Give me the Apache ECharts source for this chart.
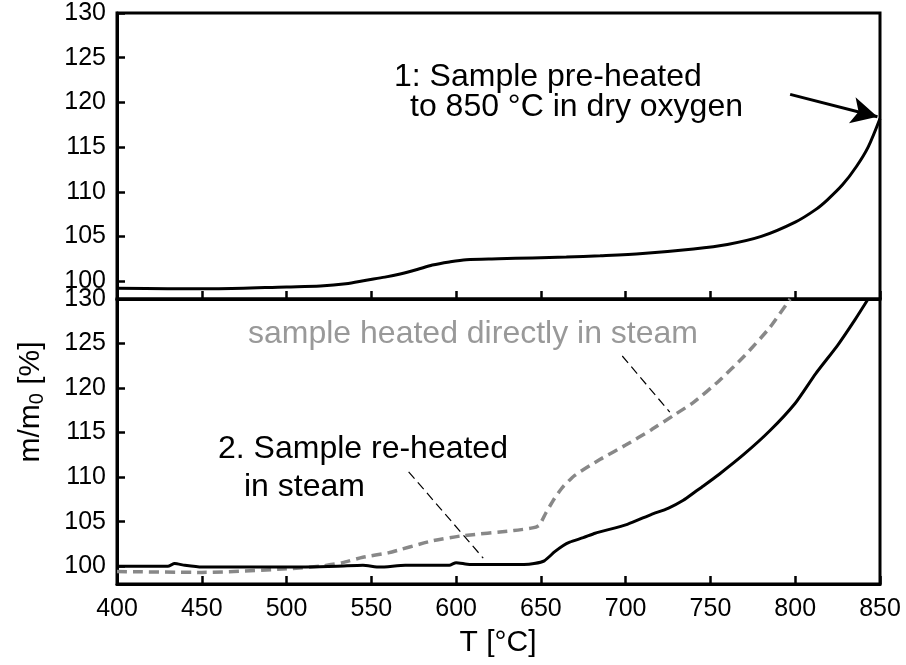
<!DOCTYPE html>
<html>
<head>
<meta charset="utf-8">
<script src="https://cdn.jsdelivr.net/npm/echarts@6/dist/echarts.min.js"></script>
<style>html,body{margin:0;padding:0;background:#fff}#c{width:906px;height:665px}</style>
</head>
<body>
<div id="c"></div>
<script>
// x ticks
const xTicks = [400, 450, 500, 550, 600, 650, 700, 750, 800, 850];
// Top panel: pre-heated in dry oxygen
const topT = [400, 430, 460, 500, 520, 535, 547, 558, 567, 577, 586, 596, 606, 625, 645, 665, 685, 710, 740, 760, 780, 800, 812, 819, 828, 836, 843, 850];
const topV = [99.2, 99.15, 99.15, 99.35, 99.45, 99.7, 100.1, 100.45, 100.8, 101.3, 101.8, 102.15, 102.4, 102.5, 102.6, 102.7, 102.85, 103.1, 103.6, 104.1, 105.0, 106.6, 108.0, 109.1, 110.8, 112.8, 115.0, 118.2];
// Bottom panel: re-heated in steam (black)
const reT = [400, 430, 434, 440, 450, 480, 500, 530, 545, 555, 570, 585, 596, 600, 608, 620, 640, 646, 652, 658, 663, 667, 675, 682, 701, 715, 725, 734, 742, 745, 755, 770, 785, 800, 812, 825, 835, 843];
const reV = [100.0, 100.0, 100.3, 100.1, 99.9, 99.9, 99.9, 100.0, 100.1, 99.9, 100.1, 100.1, 100.1, 100.4, 100.2, 100.2, 100.2, 100.3, 100.6, 101.6, 102.3, 102.7, 103.2, 103.7, 104.7, 105.8, 106.5, 107.4, 108.5, 108.9, 110.3, 112.6, 115.2, 118.3, 121.6, 124.8, 127.6, 130.0];
// Bottom panel: heated directly in steam (gray dashed)
const dirT = [400, 450, 500, 520, 533, 545, 560, 585, 603, 634, 645, 649, 653, 658, 663, 670, 685, 700, 715, 728, 740, 755, 770, 785, 797];
const dirV = [99.4, 99.3, 99.7, 100.0, 100.4, 101.0, 101.5, 102.8, 103.4, 104.0, 104.3, 104.6, 106.0, 107.6, 108.9, 110.2, 112.0, 113.6, 115.3, 116.9, 118.4, 120.8, 123.6, 126.8, 130.0];
const yMin = 98, yMax = 130;

const pairs = (a, b) => a.map((t, i) => [t, b[i]]);
const FONT = 'Liberation Sans, Arial, sans-serif';

const axisX = (gi, showLabel) => ({
  type: 'value', gridIndex: gi, min: 400, max: 850, interval: 50,
  axisLine: { show: true, onZero: false, lineStyle: { color: '#000', width: 3 } },
  axisTick: { show: true, inside: true, length: 8, lineStyle: { color: '#000', width: 2.5 } },
  axisLabel: { show: showLabel, color: '#000', fontSize: 25, fontFamily: FONT, margin: 13 },
  splitLine: { show: false }
});
const axisY = (gi) => ({
  type: 'value', gridIndex: gi, min: yMin, max: yMax, splitNumber: 6,
  axisLine: { show: true, onZero: false, lineStyle: { color: '#000', width: 3 } },
  axisTick: { show: true, inside: true, length: 8, lineStyle: { color: '#000', width: 2.5 } },
  axisLabel: { color: '#000', fontSize: 25, fontFamily: FONT, margin: 11, showMinLabel: false },
  splitLine: { show: false }
});

const chart = echarts.init(document.getElementById('c'), null, { renderer: 'canvas' });
chart.setOption({
  animation: false,
  backgroundColor: '#fff',
  grid: [
    { left: 117, right: 26, top: 13, height: 286, show: true, borderColor: '#000', borderWidth: 3, backgroundColor: 'transparent' },
    { left: 117, right: 26, top: 299, height: 285, show: true, borderColor: '#000', borderWidth: 3, backgroundColor: 'transparent' }
  ],
  xAxis: [axisX(0, false), axisX(1, true)],
  yAxis: [axisY(0), axisY(1)],
  series: [
    {
      type: 'line', xAxisIndex: 0, yAxisIndex: 0, data: pairs(topT, topV), smooth: 0.3,
      showSymbol: false, lineStyle: { color: '#000', width: 3 },
      markLine: {
        silent: true, symbol: ['none', 'arrow'], symbolSize: [20, 26],
        lineStyle: { color: '#000', width: 3, type: 'solid' }, label: { show: false },
        data: [[{ coord: [797, 120.9] }, { coord: [848.5, 118.4] }]]
      }
    },
    {
      type: 'line', xAxisIndex: 1, yAxisIndex: 1, data: pairs(dirT, dirV), smooth: 0.2,
      showSymbol: false, lineStyle: { color: '#888', width: 3.5, type: [10, 6] },
      markLine: {
        silent: true, symbol: ['none', 'none'],
        lineStyle: { color: '#000', width: 1.2, type: [9, 5] }, label: { show: false },
        data: [[{ coord: [698, 123.6] }, { coord: [726, 117.3] }]]
      }
    },
    {
      type: 'line', xAxisIndex: 1, yAxisIndex: 1, data: pairs(reT, reV), smooth: 0.2,
      showSymbol: false, lineStyle: { color: '#000', width: 3 },
      markLine: {
        silent: true, symbol: ['none', 'none'],
        lineStyle: { color: '#000', width: 1.2, type: [9, 5] }, label: { show: false },
        data: [[{ coord: [572, 110.6] }, { coord: [616, 100.9] }]]
      }
    }
  ],
  graphic: [
    { type: 'text', left: 394, top: 61, style: { text: '1: Sample pre-heated', font: '32px ' + FONT, fill: '#000' } },
    { type: 'text', left: 410, top: 91, style: { text: 'to 850 °C in dry oxygen', font: '32px ' + FONT, fill: '#000' } },
    { type: 'text', left: 248, top: 318, style: { text: 'sample heated directly in steam', font: '32px ' + FONT, fill: '#999' } },
    { type: 'text', left: 218, top: 433, style: { text: '2. Sample re-heated', font: '32px ' + FONT, fill: '#000' } },
    { type: 'text', left: 244, top: 471, style: { text: 'in steam', font: '32px ' + FONT, fill: '#000' } },
    { type: 'text', x: 498, y: 643, style: { text: 'T [°C]', font: '30px ' + FONT, fill: '#000', align: 'center', verticalAlign: 'middle' } },
    {
      type: 'text', x: 31, y: 402, rotation: Math.PI / 2,
      style: {
        text: '{a|m/m}{b|0}{a| [%]}', align: 'center', verticalAlign: 'middle', fill: '#000',
        rich: { a: { fontSize: 30, fontFamily: FONT, fill: '#000' }, b: { fontSize: 20, fontFamily: FONT, fill: '#000', padding: [12, 0, 0, 0] } }
      }
    }
  ]
});
</script>
</body>
</html>
